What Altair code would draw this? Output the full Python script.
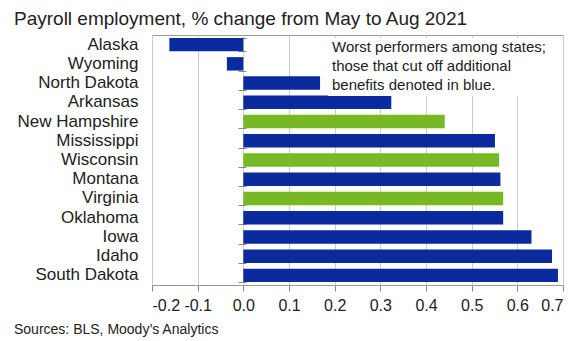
import altair as alt
import pandas as pd

states = ["Alaska", "Wyoming", "North Dakota", "Arkansas", "New Hampshire",
          "Mississippi", "Wisconsin", "Montana", "Virginia", "Oklahoma",
          "Iowa", "Idaho", "South Dakota"]
pct_change = [-0.162, -0.036, 0.168, 0.324, 0.441, 0.551, 0.560, 0.563,
              0.569, 0.569, 0.631, 0.676, 0.689]
cut_off_benefits = [True, True, True, True, False, True, False, True,
                    False, True, True, True, True]
x_ticks = [-0.2, -0.1, 0.0, 0.1, 0.2, 0.3, 0.4, 0.5, 0.6, 0.7]

title_text = "Payroll employment, % change from May to Aug 2021"
note_lines = ["Worst performers among states;",
              "those that cut off additional",
              "benefits denoted in blue."]
source_text = "Sources: BLS, Moody\u2019s Analytics"

df = pd.DataFrame({
    "state": states,
    "value": pct_change,
    "group": ["Cut off" if c else "Kept" for c in cut_off_benefits],
})

FONT = "Liberation Sans"
BLUE = "#0b2a9e"
GREEN = "#76b923"
W, H = 411, 250

y_scale = alt.Scale(domain=states, paddingInner=0.3, paddingOuter=0.15)
x_scale = alt.Scale(domain=[-0.2, 0.7], nice=False, zero=False)

bars = alt.Chart(df).mark_bar().encode(
    x=alt.X("value:Q", scale=x_scale,
            axis=alt.Axis(values=x_ticks, title=None, domain=False,
                          grid=True, gridColor="#cccccc",
                          tickSize=6, tickColor="#888888",
                          labelFontSize=16, labelFont=FONT, labelColor="#222222",
                          labelPadding=6,
                          labelExpr="replace(format(datum.value, '.1f'), '\u2212', '-')")),
    x2=alt.datum(0),
    y=alt.Y("state:N", scale=y_scale, sort=states,
            axis=alt.Axis(orient="left", title=None, domain=False, ticks=False,
                          grid=False, labelFontSize=17, labelFont=FONT,
                          labelColor="#222222", labelPadding=14)),
    color=alt.Color("group:N",
                    scale=alt.Scale(domain=["Cut off", "Kept"], range=[BLUE, GREEN]),
                    legend=None),
)

zero_ticks = alt.Chart(df).mark_point(opacity=0).encode(
    x=alt.X("value:Q", scale=x_scale),
    y=alt.Y("state:N", scale=y_scale, sort=states,
            axis=alt.Axis(orient="right", offset=-325, title=None, labels=False,
                          domain=False, grid=False, ticks=True, tickBand="extent",
                          tickSize=8, tickColor="#888888")),
)

first = alt.datum.state == states[0]

note_box = alt.Chart(df).mark_rect(color="white").encode(
    x=alt.value(176), x2=alt.value(408), y=alt.value(3), y2=alt.value(61)
).transform_filter(first)

note = alt.Chart(df).mark_text(
    align="left", baseline="alphabetic", fontSize=15, font=FONT,
    lineHeight=19, color="#222222"
).encode(
    x=alt.value(180), y=alt.value(17), text=alt.value(note_lines)
).transform_filter(first)

title = alt.Chart(df).mark_text(
    align="left", baseline="alphabetic", fontSize=19, font=FONT, color="#222222"
).encode(
    x=alt.value(-138), y=alt.value(-10), text=alt.value(title_text)
).transform_filter(first)

source = alt.Chart(df).mark_text(
    align="left", baseline="middle", fontSize=14, font=FONT, color="#222222"
).encode(
    x=alt.value(-138), y=alt.value(295), text=alt.value(source_text)
).transform_filter(first)

chart = alt.layer(bars, note_box, note, zero_ticks, title, source).resolve_axis(
    y="independent"
).properties(
    width=W, height=H,
    autosize=alt.AutoSizeParams(type="none"),
    padding={"left": 144, "top": 27, "right": 10, "bottom": 55},
).configure_view(stroke="#999999", strokeWidth=1)

chart.save("out.html", embed_options={"renderer": "svg", "actions": False})
